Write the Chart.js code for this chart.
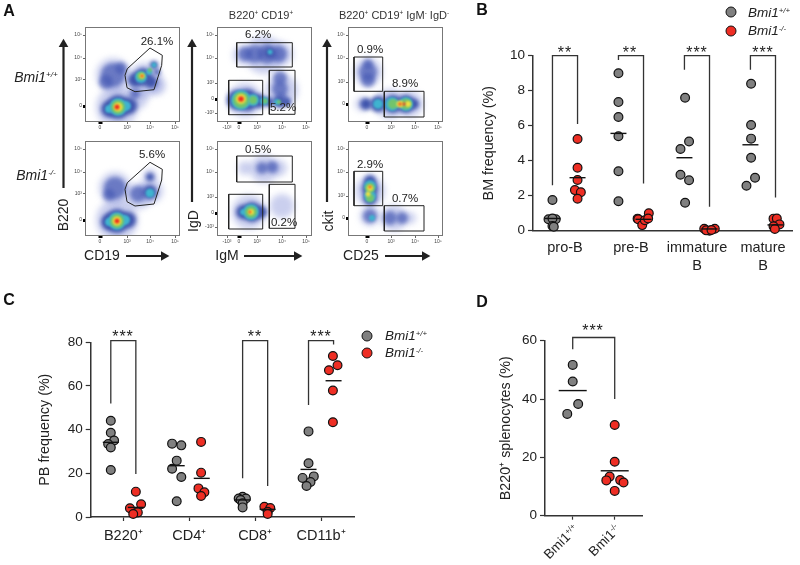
<!DOCTYPE html>
<html>
<head>
<meta charset="utf-8">
<script src="https://cdn.jsdelivr.net/npm/chart.js@4"></script>
<style>
  html, body { margin: 0; padding: 0; background: #fff; }
  #page { position: relative; width: 800px; height: 565px; overflow: hidden; font-family: "Liberation Sans", Arial, sans-serif; color: #222; }
  canvas { position: absolute; }
  .t { position: absolute; transform: translate(-50%, -50%); white-space: nowrap; font-size: 14px; line-height: 1; }
  .pct { font-size: 11.5px; }
  .hd { font-size: 11px; color: #333; }
  .v { transform: translate(-50%, -50%) rotate(-90deg); }
  .i { font-style: italic; }
  .l { font-size: 16px; font-weight: bold; color: #111; }
  .s { font-size: 16px; letter-spacing: 1px; }
  .r45 { transform: translate(-100%, -50%) rotate(-45deg); transform-origin: 100% 50%; font-size: 13.5px; }
  sup { font-size: 58%; vertical-align: 0.6em; line-height: 0; }
  .dot { position: absolute; width: 9px; height: 9px; border: 1px solid #111; border-radius: 50%; transform: translate(-50%, -50%); }
  svg { position: absolute; left: 0; top: 0; }
</style>
</head>
<body>
<div id="page">
  <canvas id="a1" width="120" height="115" style="left:65px;top:22px"></canvas>
  <canvas id="a2" width="120" height="115" style="left:65px;top:136px"></canvas>
  <canvas id="a3" width="120" height="115" style="left:197px;top:22px"></canvas>
  <canvas id="a4" width="120" height="115" style="left:197px;top:136px"></canvas>
  <canvas id="a5" width="120" height="115" style="left:328px;top:22px"></canvas>
  <canvas id="a6" width="120" height="115" style="left:328px;top:136px"></canvas>
  <canvas id="bm" width="330" height="255" style="left:470px;top:30px"></canvas>
  <canvas id="pb" width="450" height="245" style="left:0;top:320px"></canvas>
  <canvas id="spl" width="200" height="245" style="left:470px;top:320px"></canvas>

  <svg width="800" height="565">
    <defs><marker id="ah" markerWidth="5" markerHeight="5" refX="0.2" refY="2.3" orient="auto"><path d="M0,0 L4,2.3 L0,4.6 Z" fill="#222"/></marker></defs>
    <g stroke="#222" stroke-width="2.2" fill="none">
      <line x1="63.5" y1="188" x2="63.5" y2="47" marker-end="url(#ah)"/>
      <line x1="192" y1="202" x2="192" y2="47" marker-end="url(#ah)"/>
      <line x1="327" y1="202" x2="327" y2="47" marker-end="url(#ah)"/>
      <line x1="126" y1="256" x2="161" y2="256" marker-end="url(#ah)"/>
      <line x1="244" y1="256" x2="294" y2="256" marker-end="url(#ah)"/>
      <line x1="385" y1="256" x2="422" y2="256" marker-end="url(#ah)"/>
    </g>
  </svg>

  <span class="t l" style="left:9px;top:11px">A</span>
  <span class="t l" style="left:482px;top:10px">B</span>
  <span class="t l" style="left:9px;top:300px">C</span>
  <span class="t l" style="left:482px;top:302px">D</span>

  <span class="t i" style="left:36px;top:77px">Bmi1<sup>+/+</sup></span>
  <span class="t i" style="left:36px;top:175px">Bmi1<sup>-/-</sup></span>
  <span class="t v" style="left:63px;top:215px">B220</span>
  <span class="t" style="left:102px;top:255px">CD19</span>
  <span class="t v" style="left:193px;top:221px">IgD</span>
  <span class="t" style="left:227px;top:255px">IgM</span>
  <span class="t v" style="left:328px;top:221px">ckit</span>
  <span class="t" style="left:361px;top:255px">CD25</span>
  <span class="t hd" style="left:261px;top:15px">B220<sup>+</sup> CD19<sup>+</sup></span>
  <span class="t hd" style="left:394px;top:15px">B220<sup>+</sup> CD19<sup>+</sup> IgM<sup>-</sup> IgD<sup>-</sup></span>

  <span class="t pct" style="left:157px;top:42px">26.1%</span>
  <span class="t pct" style="left:152px;top:155px">5.6%</span>
  <span class="t pct" style="left:258px;top:35px">6.2%</span>
  <span class="t pct" style="left:283px;top:108px">5.2%</span>
  <span class="t pct" style="left:258px;top:150px">0.5%</span>
  <span class="t pct" style="left:284px;top:223px">0.2%</span>
  <span class="t pct" style="left:370px;top:50px">0.9%</span>
  <span class="t pct" style="left:405px;top:84px">8.9%</span>
  <span class="t pct" style="left:370px;top:165px">2.9%</span>
  <span class="t pct" style="left:405px;top:199px">0.7%</span>

  <span class="dot" style="left:731px;top:12px;background:#808080"></span>
  <span class="dot" style="left:731px;top:31px;background:#ee2e24"></span>
  <span class="t i" style="left:769px;top:13px;font-size:13.5px">Bmi1<sup>+/+</sup></span>
  <span class="t i" style="left:767px;top:31px;font-size:13.5px">Bmi1<sup>-/-</sup></span>
  <span class="dot" style="left:367px;top:336px;background:#808080"></span>
  <span class="dot" style="left:367px;top:353px;background:#ee2e24"></span>
  <span class="t i" style="left:406px;top:336px;font-size:13.5px">Bmi1<sup>+/+</sup></span>
  <span class="t i" style="left:404px;top:353px;font-size:13.5px">Bmi1<sup>-/-</sup></span>

  <span class="t s" style="left:565px;top:53px">**</span>
  <span class="t s" style="left:630px;top:53px">**</span>
  <span class="t s" style="left:697px;top:53px">***</span>
  <span class="t s" style="left:763px;top:53px">***</span>
  <span class="t s" style="left:123px;top:337px">***</span>
  <span class="t s" style="left:255px;top:337px">**</span>
  <span class="t s" style="left:321px;top:337px">***</span>
  <span class="t s" style="left:593px;top:331px">***</span>

  <span class="t r45" style="left:576px;top:527px">Bmi1<sup>+/+</sup></span>
  <span class="t r45" style="left:618px;top:527px">Bmi1<sup>-/-</sup></span>
</div>

<script>
// panel B, bone marrow
const bmCategories = ['pro-B', 'pre-B', ['immature', 'B'], ['mature', 'B']];
const bmGrayX = [-0.19, -0.25, -0.14, -0.19, -0.19, -0.17, 0.81, 0.81, 0.81, 0.81, 0.81, 0.81, 1.82, 1.88, 1.75, 1.75, 1.88, 1.82, 2.82, 2.82, 2.82, 2.82, 2.88, 2.75];
const bmGrayY = [1.75, 0.65, 0.65, 0.7, 0.27, 0.23, 9.0, 7.35, 6.5, 5.4, 3.4, 1.68, 7.6, 5.1, 4.67, 3.2, 2.88, 1.6, 8.4, 6.04, 5.26, 4.17, 3.03, 2.57];
const bmRedX = [0.19, 0.19, 0.19, 0.15, 0.24, 0.19, 1.10, 1.11, 1.17, 1.21, 1.27, 1.26, 2.11, 2.27, 2.19, 2.14, 2.22, 3.16, 3.21, 3.25, 3.16, 3.18];
const bmRedY = [5.24, 3.6, 2.9, 2.32, 2.2, 1.83, 0.69, 0.65, 0.32, 0.6, 1.0, 0.7, 0.11, 0.11, 0, 0.02, 0.04, 0.69, 0.7, 0.36, 0.25, 0.1];
const bmGrayMeanX = [-0.19, 0.81, 1.81, 2.81];
const bmGrayMean = [0.7, 5.56, 4.17, 4.91];
const bmRedMeanX = [0.19, 1.19, 2.19, 3.19];
const bmRedMean = [3.03, 0.65, 0.1, 0.33];
const bmBrackets = [
  [[-0.19, 2.6], [-0.19, 10], [0.19, 10], [0.19, 6.1]],
  [[0.81, 9.75], [0.81, 10], [1.19, 10], [1.19, 2.7]],
  [[1.81, 9.2], [1.81, 10], [2.19, 10], [2.19, 1.37]],
  [[2.81, 9.2], [2.81, 10], [3.19, 10], [3.19, 1.9]]
];

// panel C, peripheral blood
const pbCategories = ['B220⁺', 'CD4⁺', 'CD8⁺', 'CD11b⁺'];
const pbGrayX = [-0.19, -0.19, -0.14, -0.23, -0.19, -0.19, 0.74, 0.88, 0.81, 0.74, 0.88, 0.81, 1.81, 1.75, 1.86, 1.78, 1.81, 1.81, 2.81, 2.81, 2.89, 2.72, 2.84, 2.78];
const pbGrayY = [44.1, 38.6, 35, 33.4, 31.8, 21.5, 33.6, 32.8, 25.8, 22.1, 18.3, 7.2, 9.3, 8.5, 8.5, 7.8, 6.3, 4.4, 39.2, 24.6, 18.6, 17.9, 16, 14.2];
const pbRedX = [0.19, 0.27, 0.10, 0.22, 0.15, 1.18, 1.18, 1.14, 1.23, 1.18, 2.14, 2.23, 2.19, 2.19, 3.18, 3.25, 3.12, 3.18, 3.18];
const pbRedY = [11.6, 5.8, 4, 2.1, 1.4, 34.4, 20.3, 13.1, 11.3, 9.6, 4.7, 4.1, 2.4, 1.4, 73.7, 69.5, 67.2, 57.9, 43.4];
const pbGrayMeanX = [-0.19, 0.81, 1.81, 2.81];
const pbGrayMean = [34.2, 23.5, 7.8, 21.8];
const pbRedMeanX = [0.19, 1.19, 2.19, 3.19];
const pbRedMean = [4.4, 17.7, 3.5, 62.4];
const pbBrackets = [
  [[-0.19, 52], [-0.19, 80.8], [0.19, 80.8], [0.19, 19.7]],
  [[1.81, 17.7], [1.81, 80.8], [2.19, 80.8], [2.19, 14.2]],
  [[2.81, 51.3], [2.81, 80.8], [3.19, 80.8], [3.19, 79]]
];

// panel D, spleen
const splGrayX = [0, 0, 0.13, -0.13];
const splGrayY = [51.7, 46, 38.3, 34.9];
const splRedX = [1, 1, 0.88, 1.13, 0.8, 1.21, 1];
const splRedY = [31.1, 18.5, 13.4, 12.2, 12.1, 11.4, 8.5];
const splGrayMeanX = [0];
const splGrayMean = [42.9];
const splRedMeanX = [1];
const splRedMean = [15.4];
const splBrackets = [[[0, 57.1], [0, 61.1], [1, 61.1], [1, 40]]];

// panel A, flow plots: density clumps as [channel x, channel y, spread], one list per density level
const a1Haze = [[28, 47, 17], [60, 42, 17], [32, 15, 21], [52, 24, 11], [72, 36, 9]];
const a1Thin = [[28, 47, 12], [21, 40, 7], [36, 54, 6], [50, 28, 5]];
const a1Blue = [[24, 13, 8], [33, 15, 12], [44, 16, 8], [50, 42, 7], [58, 45, 9], [66, 40, 6], [69, 57, 4], [72, 50, 3]];
const a1Cyan = [[33, 15, 9], [24, 13, 4], [41, 16, 5], [56, 45, 6], [64, 50, 3], [69, 57, 2.5]];
const a1Green = [[33, 15, 7], [56, 46, 4], [65, 52, 2]];
const a1Yellow = [[33, 15, 4.5], [57, 46, 2.5]];
const a1Red = [[32, 15, 2.5], [57, 46, 1.3]];

const a2Haze = [[30, 48, 16], [54, 40, 13], [66, 45, 12], [32, 16, 21], [65, 60, 7]];
const a2Thin = [[30, 48, 11], [24, 41, 6], [53, 42, 8]];
const a2Blue = [[24, 14, 8], [32, 15, 12], [43, 16, 8], [65, 44, 7], [65, 59, 4]];
const a2Cyan = [[32, 15, 9], [24, 14, 4], [40, 16, 5], [65, 43, 4.5]];
const a2Green = [[32, 15, 7]];
const a2Yellow = [[32, 15, 4.5]];
const a2Red = [[32, 15, 2.5]];

const a3Haze = [[47, 67, 19], [26, 67, 10], [65, 32, 16], [28, 22, 17], [64, 68, 12]];
const a3Thin = [[28, 68, 7], [38, 68, 9], [50, 68, 10], [62, 68, 8], [63, 44, 7], [63, 33, 8], [64, 22, 7]];
const a3Blue = [[52, 69, 5], [20, 22, 10], [30, 22, 11], [42, 21, 7], [52, 20, 5], [62, 20, 5], [70, 20, 4]];
const a3Cyan = [[53, 70, 2.5], [24, 22, 10], [36, 22, 6], [47, 21, 4], [60, 20, 3]];
const a3Green = [[24, 22, 8], [36, 22, 4], [48, 21, 2.5], [62, 20, 2]];
const a3Yellow = [[24, 23, 5]];
const a3Red = [[24, 23, 2.8]];

const a4Haze = [[47, 67, 14], [28, 68, 7], [62, 68, 8], [65, 30, 12], [32, 24, 17]];
const a4Thin = [[45, 68, 6], [55, 69, 6]];
const a4Blue = [[26, 24, 7], [35, 24, 10], [44, 24, 6]];
const a4Cyan = [[34, 24, 8], [26, 24, 3]];
const a4Green = [[34, 24, 6]];
const a4Yellow = [[34, 24, 3]];
const a4Red = [[33, 24, 1.2]];

const a5Haze = [[20, 50, 14], [42, 18, 15], [62, 18, 13], [14, 18, 7]];
const a5Thin = [[20, 50, 9], [20, 42, 7], [20, 58, 5]];
const a5Blue = [[18, 18, 6], [30, 18, 8], [45, 18, 9], [58, 18, 9], [66, 18, 5]];
const a5Cyan = [[30, 18, 5], [44, 18, 7], [58, 18, 7]];
const a5Green = [[45, 18, 5], [58, 18, 5.5]];
const a5Yellow = [[52, 18, 3.5], [60, 18, 3]];
const a5Red = [[52, 18, 1.5], [56, 18, 1.5]];

const a6Haze = [[22, 45, 15], [22, 20, 10], [46, 18, 13], [62, 18, 6]];
const a6Thin = [[22, 20, 7], [42, 18, 7], [54, 18, 6]];
const a6Blue = [[22, 55, 6], [22, 47, 8], [22, 38, 7]];
const a6Cyan = [[22, 50, 6], [22, 40, 6], [24, 18, 3]];
const a6Green = [[22, 48, 5], [22, 38, 4]];
const a6Yellow = [[22, 48, 3], [20, 42, 2.5]];
const a6Red = [[22, 49, 1.2]];

// gates, channel coordinates
const cd19Gate1 = [[65, 74], [77.3, 66.7], [76.7, 56.7], [69, 32.3], [50, 30.3], [42, 34.3], [40, 46.7], [42.3, 53.3], [65, 74]];
const cd19Gate2 = [[65, 73.7], [77.3, 66.7], [76.7, 56], [69, 32], [50, 30], [42, 34.3], [40, 46.7], [42.3, 53.3], [65, 73.7]];
const igGates1 = [
  [[19.7, 55], [75.3, 55], [75.3, 79.3], [19.7, 79.3], [19.7, 55]],
  [[52.3, 7.7], [78, 7.7], [78, 51.7], [52.3, 51.7], [52.3, 7.7]],
  [[11.7, 7.3], [45.7, 7.3], [45.7, 41.7], [11.7, 41.7], [11.7, 7.3]]
];
const igGates2 = [
  [[19.7, 54], [75.3, 54], [75.3, 80], [19.7, 80], [19.7, 54]],
  [[52.3, 7.7], [78, 7.7], [78, 51.7], [52.3, 51.7], [52.3, 7.7]],
  [[11.7, 7], [45.7, 7], [45.7, 41.7], [11.7, 41.7], [11.7, 7]]
];
const kitGates1 = [
  [[6, 30.7], [34.7, 30.7], [34.7, 65], [6, 65], [6, 30.7]],
  [[36.3, 5], [76, 5], [76, 30.7], [36.3, 30.7], [36.3, 5]]
];
const kitGates2 = [
  [[6, 30.3], [34.7, 30.3], [34.7, 64.7], [6, 64.7], [6, 30.3]],
  [[36.3, 5], [76, 5], [76, 30.3], [36.3, 30.3], [36.3, 5]]
];

// axis ticks of the flow plots, as channel + label
const cd19TickX = [15, 42, 65, 90];
const cd19TickY = [16, 42, 64, 87];
const cd19LabelsX = ['0', '10³', '10⁴', '10⁵'];
const cd19LabelsY = ['0', '10³', '10⁴', '10⁵'];
const igTickX = [10, 22, 40, 65, 89];
const igTickY = [9, 23, 39, 64, 87];
const igLabelsX = ['-10³', '0', '10³', '10⁴', '10⁵'];
const igLabelsY = ['-10³', '0', '10³', '10⁴', '10⁵'];
const kitTickX = [19, 43, 67, 90];
const kitTickY = [18, 40, 64, 87];
const kitLabelsX = ['0', '10³', '10⁴', '10⁵'];
const kitLabelsY = ['0', '10³', '10⁴', '10⁵'];

const toPoints = (xs, ys) => xs.map((x, i) => ({ x: x, y: ys[i] }));
const toXY = pts => pts.map(p => ({ x: p[0], y: p[1] }));
const toBubble = pts => pts.map(p => ({ x: p[0], y: p[1], r: p[2] }));

const GRAY = '#808080';
const RED = '#ee2e24';
const INK = '#222';

// soft edge for density clumps, the original plots look smeared
const softBubbles = {
  id: 'softBubbles',
  beforeDatasetDraw(chart, args) {
    const ds = chart.data.datasets[args.index];
    if (ds.type === 'bubble') {
      chart.ctx.save();
      chart.ctx.filter = 'blur(' + ds.soft + 'px)';
    }
  },
  afterDatasetDraw(chart, args) {
    if (chart.data.datasets[args.index].type === 'bubble') chart.ctx.restore();
  }
};

const boxBorder = {
  id: 'boxBorder',
  afterDraw(chart) {
    const { ctx, chartArea: a } = chart;
    ctx.save();
    ctx.strokeStyle = '#777';
    ctx.lineWidth = 1;
    ctx.strokeRect(a.left + 0.5, a.top + 0.5, a.width - 1, a.height - 1);
    ctx.restore();
  }
};

function flowChart(id, levels, gates, tickX, labelsX, tickY, labelsY) {
  const colors = ['rgba(115,130,210,0.38)', 'rgba(70,90,180,0.72)', '#4055ad', '#3fb3cf', '#72c46c', '#f0e040', '#ee2a1e'];
  const softness = [3, 2.2, 2, 1.3, 1.1, 1, 0.8];
  const datasets = levels.map((lvl, i) => ({
    type: 'bubble',
    data: toBubble(lvl),
    backgroundColor: colors[i],
    borderWidth: 0,
    soft: softness[i],
    order: levels.length - i
  }));
  gates.forEach(g => datasets.push({
    type: 'scatter',
    data: toXY(g),
    showLine: true,
    pointRadius: 0,
    borderColor: '#222',
    borderWidth: 1,
    order: 0
  }));
  const axis = (ticks, labels, size, zeroWidth) => ({
    type: 'linear',
    min: 0,
    max: 95,
    afterBuildTicks: s => { s.ticks = ticks.map(v => ({ value: v })); },
    afterFit: s => { if (s.isHorizontal()) s.height = size; else s.width = size; },
    ticks: {
      autoSkip: false,
      maxRotation: 0,
      font: { size: 5 },
      color: '#444',
      padding: 1,
      callback: v => labels[ticks.indexOf(v)]
    },
    grid: {
      drawOnChartArea: false,
      tickLength: 2,
      color: '#666',
      // events pile up on the zero line, it shows as a thick black mark
      tickColor: c => (c.tick && labels[ticks.indexOf(c.tick.value)] === '0' ? '#000' : '#666'),
      tickWidth: c => (c.tick && labels[ticks.indexOf(c.tick.value)] === '0' ? zeroWidth : 1)
    },
    border: { display: false }
  });
  return new Chart(document.getElementById(id), {
    type: 'bubble',
    data: { datasets: datasets },
    options: {
      responsive: false,
      animation: false,
      devicePixelRatio: 1,
      layout: { autoPadding: false, padding: { top: 5, right: 5, left: 0, bottom: 0 } },
      plugins: { legend: { display: false }, tooltip: { enabled: false } },
      scales: { x: axis(tickX, labelsX, 15, 4), y: axis(tickY, labelsY, 20, 3) }
    },
    plugins: [softBubbles, boxBorder]
  });
}

function stripChart(id, cfg) {
  const pointSet = (xs, ys, fill) => ({
    data: toPoints(xs, ys),
    pointRadius: 4.4,
    pointBackgroundColor: fill,
    pointBorderColor: '#111',
    pointBorderWidth: 1.2,
    showLine: false,
    clip: false,
    order: 2
  });
  const meanSet = (xs, ys) => ({
    data: toPoints(xs, ys),
    pointStyle: 'line',
    pointRadius: cfg.meanHalf,
    pointBorderColor: '#111',
    pointBorderWidth: 1.4,
    showLine: false,
    clip: false,
    order: 1
  });
  const datasets = [
    pointSet(cfg.grayX, cfg.grayY, GRAY),
    pointSet(cfg.redX, cfg.redY, RED),
    meanSet(cfg.grayMeanX, cfg.grayMean),
    meanSet(cfg.redMeanX, cfg.redMean)
  ];
  cfg.brackets.forEach(b => datasets.push({
    data: toXY(b),
    showLine: true,
    pointRadius: 0,
    borderColor: '#333',
    borderWidth: 1.3,
    clip: false,
    order: 3
  }));
  const tickValues = cfg.categories.map((c, i) => i);
  return new Chart(document.getElementById(id), {
    type: 'scatter',
    data: { datasets: datasets },
    options: {
      responsive: false,
      animation: false,
      devicePixelRatio: 1,
      layout: { autoPadding: false, padding: { top: cfg.top, right: cfg.right, left: 0, bottom: 0 } },
      plugins: { legend: { display: false }, tooltip: { enabled: false } },
      scales: {
        x: {
          type: 'linear',
          min: cfg.xMin,
          max: cfg.xMax,
          afterBuildTicks: s => { s.ticks = tickValues.map(v => ({ value: v })); },
          afterFit: s => { s.height = cfg.axisH; },
          ticks: {
            autoSkip: false,
            maxRotation: 0,
            font: { size: 14.5 },
            color: INK,
            padding: cfg.xTicks ? 6 : 9,
            display: cfg.showXLabels,
            callback: v => cfg.categories[v]
          },
          grid: { drawOnChartArea: false, drawTicks: cfg.xTicks, tickLength: 4, tickWidth: 1.2, color: '#333' },
          border: { color: '#333', width: 1.5 }
        },
        y: {
          min: 0,
          max: cfg.yMax,
          afterFit: s => { s.width = cfg.axisW; },
          ticks: { stepSize: cfg.yStep, font: { size: 13.5 }, color: INK, padding: 3 },
          grid: { drawOnChartArea: false, tickLength: 5, tickWidth: 1.2, color: '#333' },
          border: { color: '#333', width: 1.5 },
          title: {
            display: true,
            text: cfg.title,
            font: { size: 14.3 },
            color: INK,
            padding: { top: cfg.titlePad, bottom: 0 }
          }
        }
      }
    }
  });
}

flowChart('a1', [a1Haze, a1Thin, a1Blue, a1Cyan, a1Green, a1Yellow, a1Red], [cd19Gate1], cd19TickX, cd19LabelsX, cd19TickY, cd19LabelsY);
flowChart('a2', [a2Haze, a2Thin, a2Blue, a2Cyan, a2Green, a2Yellow, a2Red], [cd19Gate2], cd19TickX, cd19LabelsX, cd19TickY, cd19LabelsY);
flowChart('a3', [a3Haze, a3Thin, a3Blue, a3Cyan, a3Green, a3Yellow, a3Red], igGates1, igTickX, igLabelsX, igTickY, igLabelsY);
flowChart('a4', [a4Haze, a4Thin, a4Blue, a4Cyan, a4Green, a4Yellow, a4Red], igGates2, igTickX, igLabelsX, igTickY, igLabelsY);
flowChart('a5', [a5Haze, a5Thin, a5Blue, a5Cyan, a5Green, a5Yellow, a5Red], kitGates1, kitTickX, kitLabelsX, kitTickY, kitLabelsY);
flowChart('a6', [a6Haze, a6Thin, a6Blue, a6Cyan, a6Green, a6Yellow, a6Red], kitGates2, kitTickX, kitLabelsX, kitTickY, kitLabelsY);

stripChart('bm', {
  categories: bmCategories, grayX: bmGrayX, grayY: bmGrayY, redX: bmRedX, redY: bmRedY,
  grayMeanX: bmGrayMeanX, grayMean: bmGrayMean, redMeanX: bmRedMeanX, redMean: bmRedMean, brackets: bmBrackets,
  xMin: -0.485, xMax: 3.44, yMax: 10, yStep: 2, title: 'BM frequency (%)', titlePad: 10,
  top: 25.7, right: 8, axisW: 63, axisH: 54.3, meanHalf: 8, xTicks: false, showXLabels: true
});
stripChart('pb', {
  categories: pbCategories, grayX: pbGrayX, grayY: pbGrayY, redX: pbRedX, redY: pbRedY,
  grayMeanX: pbGrayMeanX, grayMean: pbGrayMean, redMeanX: pbRedMeanX, redMean: pbRedMean, brackets: pbBrackets,
  xMin: -0.495, xMax: 3.5, yMax: 80, yStep: 20, title: 'PB frequency (%)', titlePad: 36,
  top: 22.3, right: 96, axisW: 90.7, axisH: 48, meanHalf: 8, xTicks: true, showXLabels: true
});
stripChart('spl', {
  categories: ['Bmi1+/+', 'Bmi1-/-'], grayX: splGrayX, grayY: splGrayY, redX: splRedX, redY: splRedY,
  grayMeanX: splGrayMeanX, grayMean: splGrayMean, redMeanX: splRedMeanX, redMean: splRedMean, brackets: splBrackets,
  xMin: -0.66, xMax: 1.657, yMax: 60, yStep: 20, title: 'B220⁺ splenocytes (%)', titlePad: 27,
  top: 20.7, right: 27.7, axisW: 75, axisH: 49.3, meanHalf: 14, xTicks: true, showXLabels: false
});
</script>
</body>
</html>
